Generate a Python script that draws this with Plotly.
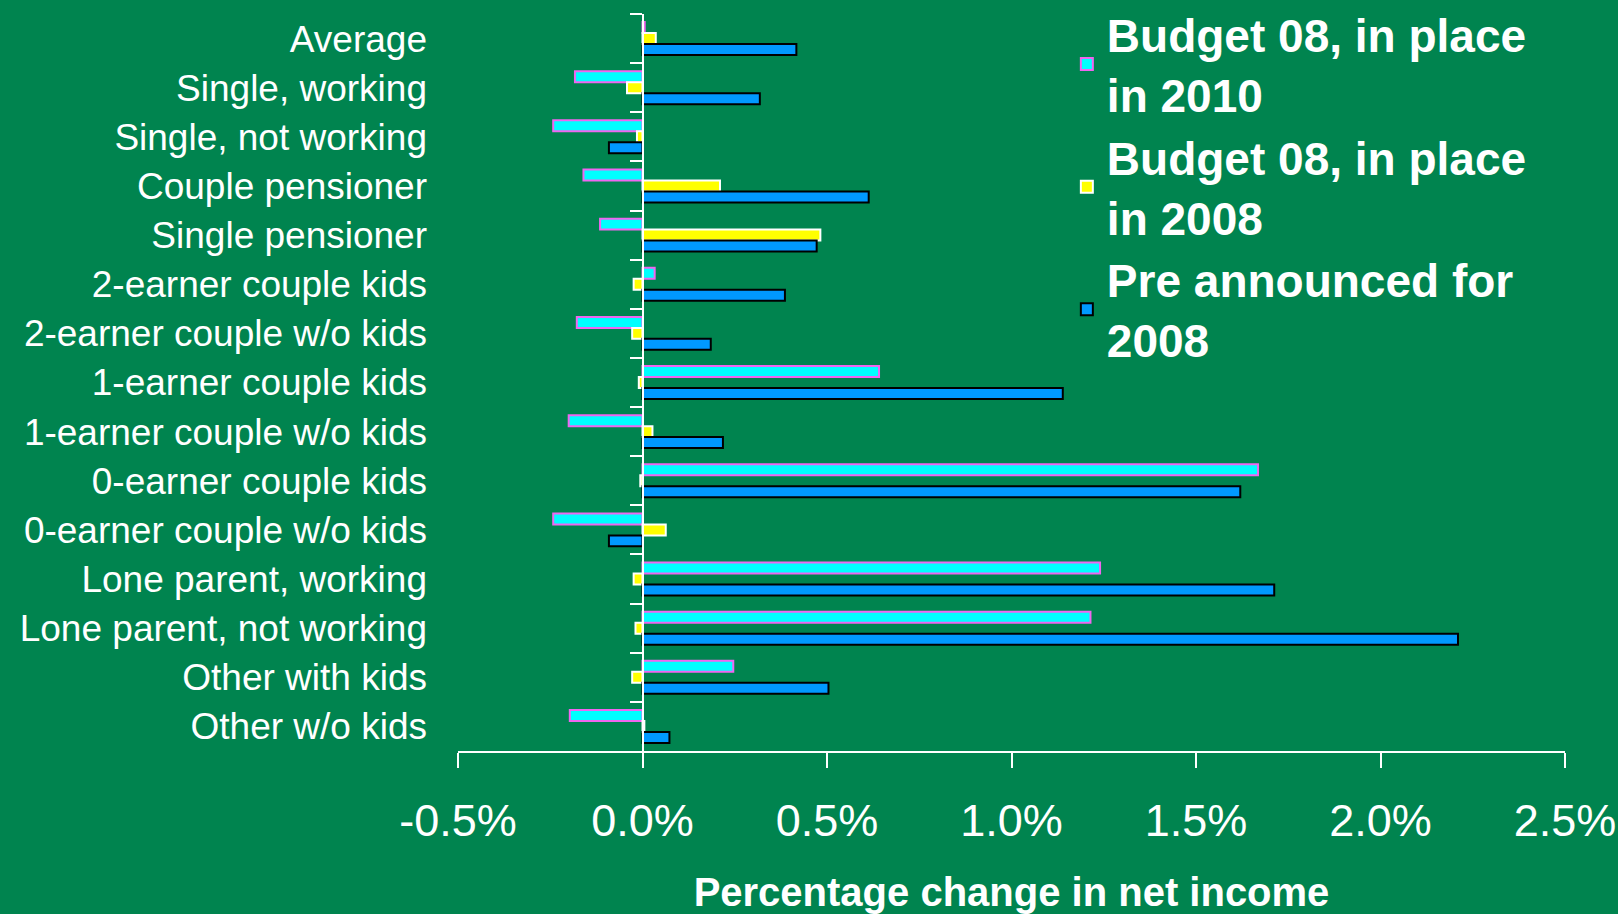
import plotly.graph_objects as go

# household types, top to bottom
categories = [
    "Average", "Single, working", "Single, not working", "Couple pensioner",
    "Single pensioner", "2-earner couple kids", "2-earner couple w/o kids",
    "1-earner couple kids", "1-earner couple w/o kids", "0-earner couple kids",
    "0-earner couple w/o kids", "Lone parent, working", "Lone parent, not working",
    "Other with kids", "Other w/o kids",
]

# percentage change in net income
budget_2010 = [0.006, -0.183, -0.242, -0.16, -0.115, 0.033, -0.178, 0.641, -0.2,
               1.668, -0.242, 1.24, 1.214, 0.246, -0.197]
budget_2008 = [0.036, -0.042, -0.015, 0.21, 0.482, -0.024, -0.028, -0.01, 0.027,
               -0.006, 0.063, -0.024, -0.019, -0.028, 0.005]
pre_announced = [0.417, 0.318, -0.091, 0.613, 0.472, 0.386, 0.185, 1.139, 0.218,
                 1.62, -0.091, 1.712, 2.21, 0.504, 0.073]

series_names = ["Budget 08, in place<br>in 2010", "Budget 08, in place<br>in 2008",
                "Pre announced for<br>2008"]

x_ticks = [-0.5, 0.0, 0.5, 1.0, 1.5, 2.0, 2.5]

BG = "#00844F"
FONT = "Liberation Sans, Arial, sans-serif"

fig = go.Figure()

styles = [
    ("#00FFFF", "#F066F0"),
    ("#FFFF00", "#FFFFFF"),
    ("#0099FF", "#000000"),
]
for name, vals, (fill, edge) in zip(series_names, [budget_2010, budget_2008, pre_announced], styles):
    fig.add_trace(go.Bar(
        y=categories, x=vals, orientation="h", name=name,
        marker=dict(color=fill, line=dict(color=edge, width=2)),
    ))

# invisible helper so the tick axis crossing at zero gets drawn
fig.add_trace(go.Scatter(
    y=categories, x=[0] * len(categories), yaxis="y2", mode="markers",
    marker=dict(opacity=0), showlegend=False, hoverinfo="skip",
))

cat_range = [len(categories) - 0.5, -0.5]
zero_pos = (0 - x_ticks[0]) / (x_ticks[-1] - x_ticks[0])

fig.update_layout(
    width=1618, height=914,
    paper_bgcolor=BG, plot_bgcolor=BG,
    font=dict(family=FONT, color="white"),
    margin=dict(l=458, r=53, t=14, b=163, autoexpand=False),
    barmode="group", bargap=0.33, bargroupgap=0,
    showlegend=True,
    legend=dict(
        x=0.55, y=1.022, xanchor="left", yanchor="top",
        font=dict(family=FONT, size=46, color="white", weight="bold"),
        bgcolor="rgba(0,0,0,0)", tracegroupgap=0,
    ),
    xaxis=dict(
        range=[x_ticks[0], x_ticks[-1]], tickvals=x_ticks,
        ticktext=[f"{v:.1f}%" for v in x_ticks], tickangle=0,
        tickfont=dict(size=45, color="white"),
        ticks="outside", ticklen=15, tickwidth=2, tickcolor="white",
        showline=True, linecolor="white", linewidth=2,
        showgrid=False, zeroline=False,
        ticklabelstandoff=14,
        title=dict(text="<b>Percentage change in net income</b>",
                   font=dict(size=40, color="white"), standoff=36),
    ),
    yaxis=dict(
        type="category", categoryorder="array", categoryarray=categories,
        range=cat_range, showline=False, ticks="", showgrid=False,
        tickmode="linear", tick0=0, dtick=1,
        tickfont=dict(size=37, color="white"), ticklabelstandoff=30,
    ),
    yaxis2=dict(
        type="category", categoryorder="array", categoryarray=categories,
        range=cat_range, overlaying="y", anchor="free", position=zero_pos,
        side="left", showticklabels=False, showgrid=False,
        ticks="outside", tickson="boundaries", ticklen=12, tickwidth=2,
        tickcolor="white", showline=True, linecolor="white", linewidth=2,
    ),
)

fig.write_html("out.html", config={"displayModeBar": False},
               post_script="document.body.style.margin='0';")
